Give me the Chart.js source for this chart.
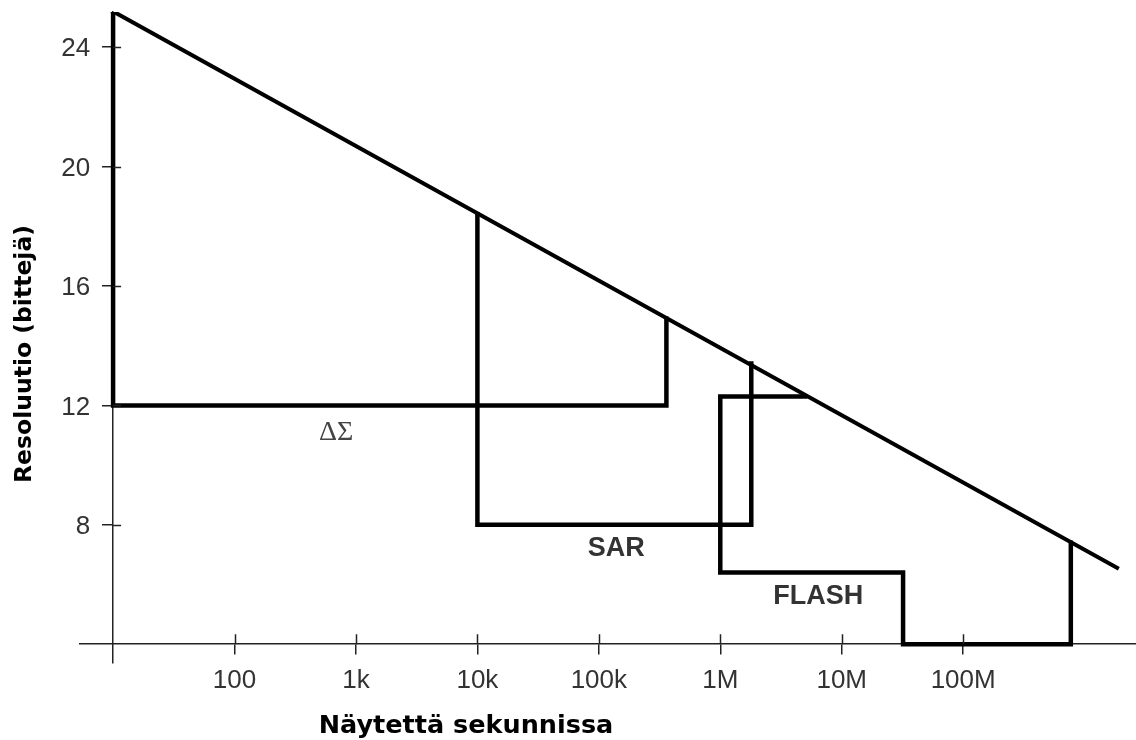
<!DOCTYPE html>
<html>
<head>
<meta charset="utf-8">
<script src="https://cdn.jsdelivr.net/npm/chart.js@4/dist/chart.umd.min.js"></script>
<style>
  html, body { margin: 0; padding: 0; background: #fff; }
  #wrap { width: 1136px; height: 740px; }
</style>
</head>
<body>
<div id="wrap"><canvas id="chart"></canvas></div>
<script>
// x axis: samples per second (log), y axis: resolution in bits
const xTicks = [100, 1e3, 1e4, 1e5, 1e6, 1e7, 1e8];
const xTickLabels = ['100', '1k', '10k', '100k', '1M', '10M', '100M'];
const yTicks = [8, 12, 16, 20, 24];

// outline of each converter region
const limitLine = [{x: 10, y: 25.2}, {x: 1.85e9, y: 6.56}];
const deltaSigma = [{x: 10, y: 25.2}, {x: 10, y: 12}, {x: 3.6e5, y: 12}, {x: 3.6e5, y: 14.9}];
const sar = [{x: 1e4, y: 18.4}, {x: 1e4, y: 8}, {x: 1.8e6, y: 8}, {x: 1.8e6, y: 13.4}];
const flash = [{x: 5e6, y: 12.3}, {x: 1e6, y: 12.3}, {x: 1e6, y: 6.4}, {x: 3.2e7, y: 6.4},
               {x: 3.2e7, y: 4}, {x: 7.7e8, y: 4}, {x: 7.7e8, y: 7.4}];

const regionNames = ['ΔΣ', 'SAR', 'FLASH'];
const regionX = [686, 1.39e5, 6.4e6];
const regionY = [11.1, 7.2, 5.6];

const yTitle = 'Resoluutio (bittejä)';
const xTitle = 'Näytettä sekunnissa';

const AXIS_X = 10;  // where the y axis crosses
const AXIS_Y = 4;   // where the x axis crosses

const sans = '"Liberation Sans", Arial, sans-serif';

function outline(data, width) {
  return {
    data: data,
    borderColor: '#000',
    borderWidth: width,
    pointRadius: 0,
    fill: false,
    tension: 0,
    borderJoinStyle: 'miter',
    borderCapStyle: 'square'
  };
}

// inner half of the crossing tick marks, y tick labels, region names and axis titles
const annotate = {
  id: 'annotate',
  afterDatasetsDraw(chart) {
    const ctx = chart.ctx;
    const x = chart.scales.x, y = chart.scales.y;
    const x0 = x.getPixelForValue(AXIS_X);
    const y0 = y.getPixelForValue(AXIS_Y);
    ctx.save();
    ctx.strokeStyle = '#222';
    ctx.lineWidth = 1.5;
    ctx.beginPath();
    xTicks.forEach(v => {
      const px = Math.round(x.getPixelForValue(v)) + 0.5;
      ctx.moveTo(px, y0 - 10);
      ctx.lineTo(px, y0);
    });
    yTicks.forEach(v => {
      const py = Math.round(y.getPixelForValue(v)) + 0.5;
      ctx.moveTo(x0, py);
      ctx.lineTo(x0 + 8, py);
    });
    ctx.stroke();

    ctx.fillStyle = '#333';
    ctx.font = '26px ' + sans;
    ctx.textAlign = 'right';
    ctx.textBaseline = 'middle';
    yTicks.forEach(v => {
      ctx.fillText(String(v), x0 - 23, y.getPixelForValue(v) + 2);
    });

    ctx.textAlign = 'center';
    regionNames.forEach((name, i) => {
      if (i === 0) {
        ctx.font = '28px "Liberation Serif", "Times New Roman", serif';
        ctx.fillStyle = '#444';
      } else {
        ctx.font = 'bold 27px ' + sans;
        ctx.fillStyle = '#333';
      }
      ctx.fillText(name, x.getPixelForValue(regionX[i]), y.getPixelForValue(regionY[i]));
    });

    ctx.fillStyle = '#000';
    ctx.textBaseline = 'alphabetic';
    ctx.font = 'bold 25.5px "DejaVu Sans", Verdana, sans-serif';
    ctx.fillText(xTitle, 466, 733);

    ctx.font = 'bold 23.5px "DejaVu Sans", Verdana, sans-serif';
    ctx.translate(31, 354);
    ctx.rotate(-Math.PI / 2);
    ctx.fillText(yTitle, 0, 0);
    ctx.restore();
  }
};

const noPadding = s => { s.paddingTop = 0; s.paddingBottom = 0; s.paddingLeft = 0; s.paddingRight = 0; };

new Chart(document.getElementById('chart'), {
  type: 'line',
  data: {
    datasets: [
      outline(limitLine, 4),
      outline(deltaSigma, 4.5),
      outline(sar, 4.5),
      outline(flash, 4.5)
    ]
  },
  options: {
    responsive: true,
    maintainAspectRatio: false,
    animation: false,
    layout: { padding: { left: 80, top: 12, right: 0, bottom: 77 } },
    plugins: {
      legend: { display: false },
      tooltip: { enabled: false }
    },
    scales: {
      x: {
        type: 'logarithmic',
        min: 5.34,
        max: 2.65e9,
        position: { y: AXIS_Y },
        afterBuildTicks: s => { s.ticks = xTicks.map(v => ({ value: v })); },
        afterFit: noPadding,
        grid: { drawOnChartArea: false, tickLength: 10, color: '#222', lineWidth: 1.5 },
        border: { color: '#222', width: 1.5 },
        ticks: {
          padding: 11,
          maxRotation: 0,
          autoSkip: false,
          color: '#333',
          font: { family: sans, size: 26 },
          callback: (v, i) => xTickLabels[i]
        }
      },
      y: {
        type: 'linear',
        min: 3.37,
        max: 25.18,
        position: { x: AXIS_X },
        afterBuildTicks: s => { s.ticks = yTicks.map(v => ({ value: v })); },
        afterFit: noPadding,
        grid: { drawOnChartArea: false, tickLength: 10, color: '#222', lineWidth: 1.5 },
        border: { color: '#222', width: 1.5 },
        ticks: { display: false }
      }
    }
  },
  plugins: [annotate]
});
</script>
</body>
</html>
